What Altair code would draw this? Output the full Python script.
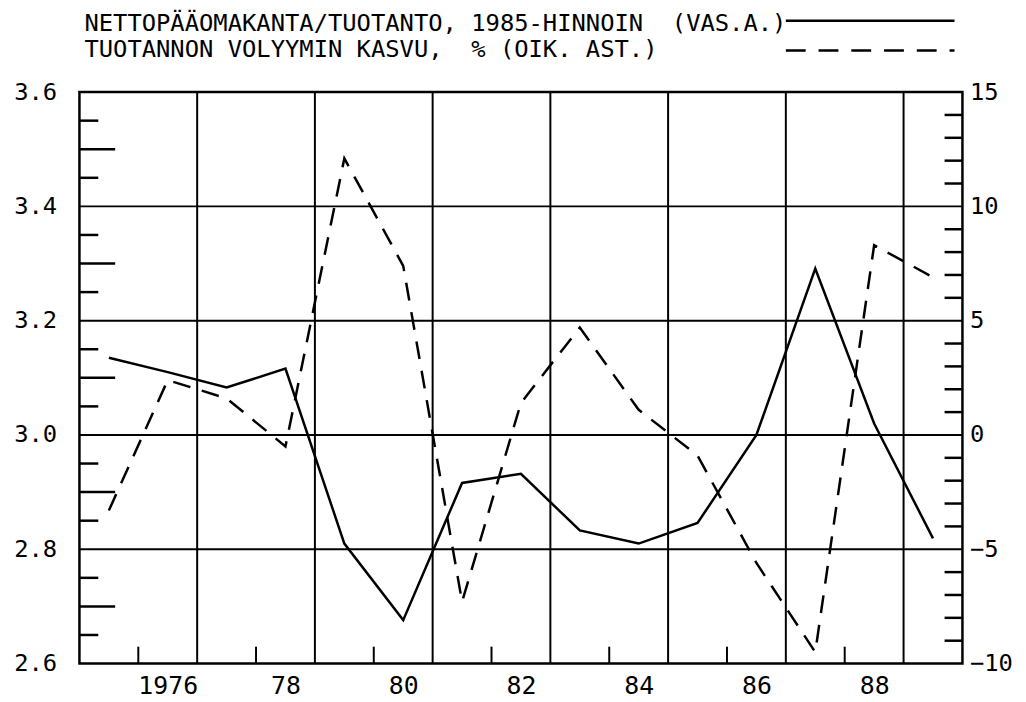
import altair as alt
import pandas as pd

# ---- data ----
years = list(range(1975, 1990))
capital_output = [3.135, 3.11, 3.083, 3.116, 2.81, 2.676, 2.916, 2.932, 2.833, 2.81, 2.846, 3.0, 3.291, 3.02, 2.819]
growth = [-3.3, 2.4, 1.6, -0.5, 12.1, 7.4, -7.3, 1.4, 4.7, 1.1, -0.9, -5.6, -9.5, 8.3, 6.9]

NB = "\u00a0"
legend_labels = ["NETTOPÄÄOMAKANTA/TUOTANTO," + NB + "1985-HINNOIN" + NB + NB + "(VAS.A.)",
                 "TUOTANNON" + NB + "VOLYYMIN" + NB + "KASVU," + NB + NB + "%" + NB + "(OIK." + NB + "AST.)"]

label_years = [1976, 1978, 1980, 1982, 1984, 1986, 1988]
grid_years = [1977, 1979, 1981, 1983, 1985, 1987, 1989]
bottom_ticks = [1976, 1978, 1980, 1982, 1984, 1986, 1988]
grid_levels = [2.8, 3.0, 3.2, 3.4]
left_labels = [2.6, 2.8, 3.0, 3.2, 3.4, 3.6]
left_major_ticks = [2.7, 2.9, 3.1, 3.3, 3.5]
left_minor_ticks = [2.65, 2.75, 2.85, 2.95, 3.05, 3.15, 3.25, 3.35, 3.45, 3.55]
right_labels = [-10, -5, 0, 5, 10, 15]
right_ticks = [v for v in range(-9, 15) if v % 5 != 0]

W, H = 890, 576
FONT = "DejaVu Sans Mono"

df = pd.DataFrame({"year_mid": [y + 0.5 for y in years],
                   "cap": capital_output, "growth": growth})

xscale = alt.Scale(domain=[1975, 1990], nice=False, zero=False)
yl_scale = alt.Scale(domain=[2.6, 3.6], nice=False, zero=False)
yr_scale = alt.Scale(domain=[-10, 15], nice=False, zero=False)

x_axis = alt.Axis(values=[y + 0.5 for y in label_years],
                  labelExpr="floor(datum.value) == 1976 ? '1976' : substring(toString(floor(datum.value)), 2, 4)",
                  title=None, labelPadding=10, labelFontSize=25, labelFlush=False,
                  labelOverlap=False, domain=False, ticks=False, grid=False)
yl_axis = alt.Axis(orient="left", values=left_labels, format=".1f", title=None,
                   labelPadding=23, labelFontSize=24, labelFlush=False, labelOverlap=False,
                   domain=False, ticks=False, grid=False)
yr_axis = alt.Axis(orient="right", values=right_labels, format="d", title=None,
                   labelPadding=7, labelFontSize=24, labelFlush=False, labelOverlap=False,
                   domain=False, ticks=False, grid=False)

hgrid = alt.Chart(pd.DataFrame({"g": grid_levels})).mark_rule(color="black", strokeWidth=2).encode(
    y=alt.Y("g:Q", scale=yl_scale, axis=yl_axis))
vgrid = alt.Chart(pd.DataFrame({"gx": grid_years})).mark_rule(color="black", strokeWidth=2).encode(
    x=alt.X("gx:Q", scale=xscale, axis=x_axis))
bticks = alt.Chart(pd.DataFrame({"bt": bottom_ticks})).mark_rule(color="black", strokeWidth=2).encode(
    x=alt.X("bt:Q", scale=xscale, axis=x_axis), y=alt.value(H), y2=alt.value(H - 17))
lmaj = alt.Chart(pd.DataFrame({"t": left_major_ticks})).mark_rule(color="black", strokeWidth=2.5).encode(
    y=alt.Y("t:Q", scale=yl_scale, axis=yl_axis), x=alt.value(0), x2=alt.value(36))
lmin = alt.Chart(pd.DataFrame({"t": left_minor_ticks})).mark_rule(color="black", strokeWidth=2.5).encode(
    y=alt.Y("t:Q", scale=yl_scale, axis=yl_axis), x=alt.value(0), x2=alt.value(19))

solid = alt.Chart(df).mark_line(color="black", strokeWidth=2.5).encode(
    x=alt.X("year_mid:Q", scale=xscale, axis=x_axis),
    y=alt.Y("cap:Q", scale=yl_scale, axis=yl_axis))

leg_df = pd.DataFrame({"label": legend_labels, "row": [0, 1]})
leg_text1 = alt.Chart(leg_df.iloc[[0]]).mark_text(
    align="left", baseline="alphabetic", font=FONT, fontSize=24, color="black").encode(
    x=alt.value(5), y=alt.value(-62), text="label:N")
leg_text2 = alt.Chart(leg_df.iloc[[1]]).mark_text(
    align="left", baseline="alphabetic", font=FONT, fontSize=24, color="black").encode(
    x=alt.value(5), y=alt.value(-35), text="label:N")
leg_solid = alt.Chart(leg_df.iloc[[0]]).mark_rule(color="black", strokeWidth=2.5).encode(
    x=alt.value(712), x2=alt.value(882), y=alt.value(-72))
leg_dash = alt.Chart(leg_df.iloc[[1]]).mark_rule(color="black", strokeWidth=2.5, strokeDash=[20, 13]).encode(
    x=alt.value(712), x2=alt.value(882), y=alt.value(-42))

rticks = alt.Chart(pd.DataFrame({"t": right_ticks})).mark_rule(color="black", strokeWidth=2.5).encode(
    y=alt.Y("t:Q", scale=yr_scale, axis=yr_axis), x=alt.value(W - 18), x2=alt.value(W))

dashed = alt.Chart(df).mark_line(color="black", strokeWidth=2.5, strokeDash=[18, 12]).encode(
    x=alt.X("year_mid:Q", scale=xscale, axis=x_axis),
    y=alt.Y("growth:Q", scale=yr_scale, axis=yr_axis))

left_group = alt.layer(hgrid, vgrid, bticks, lmaj, lmin, solid,
                       leg_text1, leg_text2, leg_solid, leg_dash)
right_group = alt.layer(rticks, dashed)

chart = alt.layer(left_group, right_group).resolve_scale(y="independent").properties(
    width=W, height=H, autosize="none", background="white",
    padding={"left": 72, "top": 82, "right": 56, "bottom": 36},
).configure_view(stroke="black", strokeWidth=2.5).configure_axis(
    labelFont=FONT, labelColor="black"
)

chart.save("out.html", embed_options={"renderer": "svg", "actions": False})
